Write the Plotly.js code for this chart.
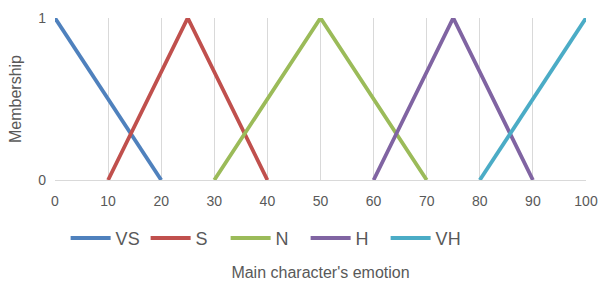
<!DOCTYPE html>
<html><head><meta charset="utf-8">
<script src="https://cdn.plot.ly/plotly-3.0.1.min.js"></script>
<style>body{margin:0}#c{width:606px;height:287px}</style>
</head><body><div id="c"></div>
<script>
const names = ['VS','S','N','H','VH'];
const xVS = [0,20],      yVS = [1,0];
const xS  = [10,25,40],  yS  = [0,1,0];
const xN  = [30,50,70],  yN  = [0,1,0];
const xH  = [60,75,90],  yH  = [0,1,0];
const xVH = [80,100],    yVH = [0,1];
const xTicks = [0,10,20,30,40,50,60,70,80,90,100];
const yTicks = [0,1];
const colors = ['#4F81BD','#C0504D','#9BBB59','#8064A2','#4BACC6'];
const xs=[xVS,xS,xN,xH,xVH], ys=[yVS,yS,yN,yH,yVH];
const traces = names.map((n,i)=>({x:xs[i],y:ys[i],name:n,mode:'lines',type:'scatter',
  line:{color:colors[i],width:3.8}}));
const f='Liberation Sans, Arial, sans-serif';
Plotly.newPlot('c',traces,{
  width:606,height:287,
  margin:{l:55,r:20,t:18,b:107,autoexpand:false},
  paper_bgcolor:'#fff',plot_bgcolor:'#fff',
  font:{family:f,color:'#595959'},
  xaxis:{range:[0,100],tickvals:xTicks,ticktext:xTicks.map(String),showgrid:true,gridcolor:'#d9d9d9',gridwidth:1,
    zeroline:false,showline:true,linecolor:'#d9d9d9',linewidth:1,mirror:false,ticks:'',ticklen:0,
    tickfont:{size:14,color:'#595959'},automargin:true,ticklabelstandoff:8,
    title:{text:"Main character's emotion",font:{size:16,color:'#595959'},standoff:59}},
  yaxis:{range:[0,1],tickvals:yTicks,ticktext:yTicks.map(String),showgrid:true,gridcolor:'#d9d9d9',gridwidth:1,
    zeroline:false,showline:false,ticks:'',tickfont:{size:14,color:'#595959'},ticklabelstandoff:8,automargin:false,
    title:{text:'Membership',font:{size:16,color:'#595959'},standoff:12}},
  showlegend:true,
  legend:{orientation:'h',x:0.02,xanchor:'left',y:-0.36,yanchor:'middle',font:{size:18,color:'#595959'},
    itemwidth:40,tracegroupgap:0,entrywidth:25,entrywidthmode:'pixels'}
},{displayModeBar:false,staticPlot:true});
</script></body></html>
